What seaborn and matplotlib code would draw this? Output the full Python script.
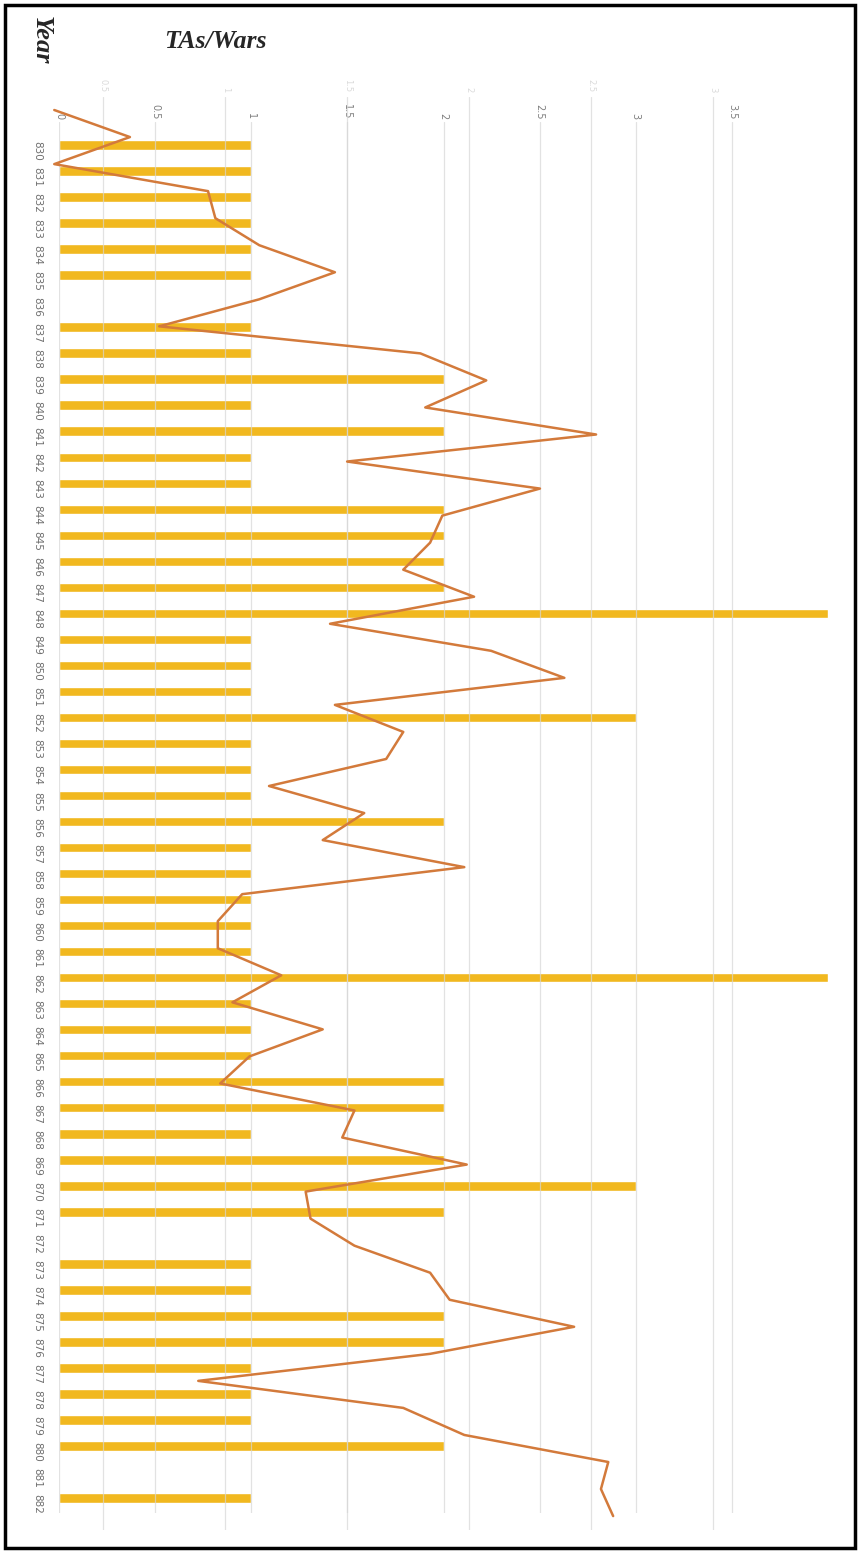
import numpy as np
import matplotlib
matplotlib.use("Agg")
import matplotlib.pyplot as plt
import seaborn as sns
from matplotlib.patches import Rectangle

# Data
years = [str(y) for y in range(830, 883)]
tas_wars = [1, 1, 1, 1, 1, 1, 0, 1, 1, 2,
            1, 2, 1, 1, 2, 2, 2, 2, 4, 1,
            1, 1, 3, 1, 1, 1, 2, 1, 1, 1,
            1, 1, 4, 1, 1, 1, 2, 2, 1, 2,
            3, 2, 0, 1, 1, 2, 2, 1, 1, 1,
            2, 0, 1]
# line series (secondary axis)
trend = [0.30, 0.61, 0.30, 0.93, 0.96, 1.14, 1.45, 1.14, 0.73, 1.80,
         2.07, 1.82, 2.52, 1.50, 2.29, 1.89, 1.84, 1.73, 2.02, 1.43,
         2.09, 2.39, 1.45, 1.73, 1.66, 1.18, 1.57, 1.40, 1.98, 1.07,
         0.97, 0.97, 1.23, 1.03, 1.40, 1.10, 0.98, 1.53, 1.48, 1.99,
         1.33, 1.35, 1.53, 1.84, 1.92, 2.43, 1.84, 0.89, 1.73, 1.98,
         2.57, 2.54, 2.59]
primary_ticks = [0, 0.5, 1, 1.5, 2, 2.5, 3, 3.5]
primary_labels = ["0", "0.5", "1", "1.5", "2", "2.5", "3", "3.5"]
secondary_ticks = [0.5, 1, 1.5, 2, 2.5, 3]
secondary_labels = ["0.5", "1", "1.5", "2", "2.5", "3"]

sns.set_style("white")
plt.rcParams['font.family'] = ['DejaVu Sans']

W, H = 860, 1551
fig = plt.figure(figsize=(W / 100, H / 100), dpi=100)


def rect(l, t, r, b):
    return [l / W, 1 - b / H, (r - l) / W, (b - t) / H]


# bars (primary axis)
ax = fig.add_axes(rect(59, 122, 828, 1513))
sns.barplot(x=tas_wars, y=years, orient='h', color='#F1B81F', saturation=1,
            width=0.36, ax=ax)
ax.set_xlim(0, 4)
ax.set_ylim(52.57, -0.88)
ax.set_xticks(primary_ticks)
ax.set_xticklabels(primary_labels)
ax.xaxis.tick_top()
ax.tick_params(axis='x', length=0, pad=2, labelsize=7, labelcolor='#7f7f7f',
               labelrotation=-90)
ax.tick_params(axis='y', length=0, pad=12, labelsize=7.5, labelcolor='#6f6f6f',
               labelrotation=-90)
ax.grid(axis='x', color='#d6d6d6', lw=0.9, alpha=0.7)
ax.set_axisbelow(False)
ax.set_xlabel('')
ax.set_ylabel('')
for s in ax.spines.values():
    s.set_visible(False)

# line (secondary axis)
ax2 = fig.add_axes(rect(45, 96.5, 845, 1529.6))
ax2.patch.set_alpha(0)
sns.lineplot(x=trend, y=np.arange(len(trend)), orient='y', estimator=None,
             color='#D37A3B', lw=1.8, ax=ax2)
ax2.set_xlim(0.262, 3.54)
ax2.set_ylim(52.5, -0.5)
ax2.set_xticks(secondary_ticks)
ax2.set_xticklabels(secondary_labels)
ax2.set_yticks([])
ax2.xaxis.tick_top()
ax2.tick_params(axis='x', length=0, pad=3, labelsize=6, labelcolor='#dadada',
                labelrotation=-90)
ax2.grid(axis='x', color='#d6d6d6', lw=0.9, alpha=0.7)
ax2.set_axisbelow(True)
ax2.set_xlabel('')
ax2.set_ylabel('')
for s in ax2.spines.values():
    s.set_visible(False)

# titles
fig.text(215 / W, 1 - 42 / H, 'TAs/Wars', family='Liberation Serif',
         weight='bold', style='italic', size=18.5, ha='center', va='center')
fig.text(41 / W, 1 - 40 / H, 'Year', family='Liberation Serif',
         weight='bold', style='italic', size=19, ha='center', va='center',
         rotation=-90)

# frame around the picture
fig.patches.append(Rectangle((5 / W, 3 / H), 850 / W, 1543 / H,
                             transform=fig.transFigure, fill=False,
                             lw=2.5, ec='black'))

fig.savefig('out.png', dpi=100)
